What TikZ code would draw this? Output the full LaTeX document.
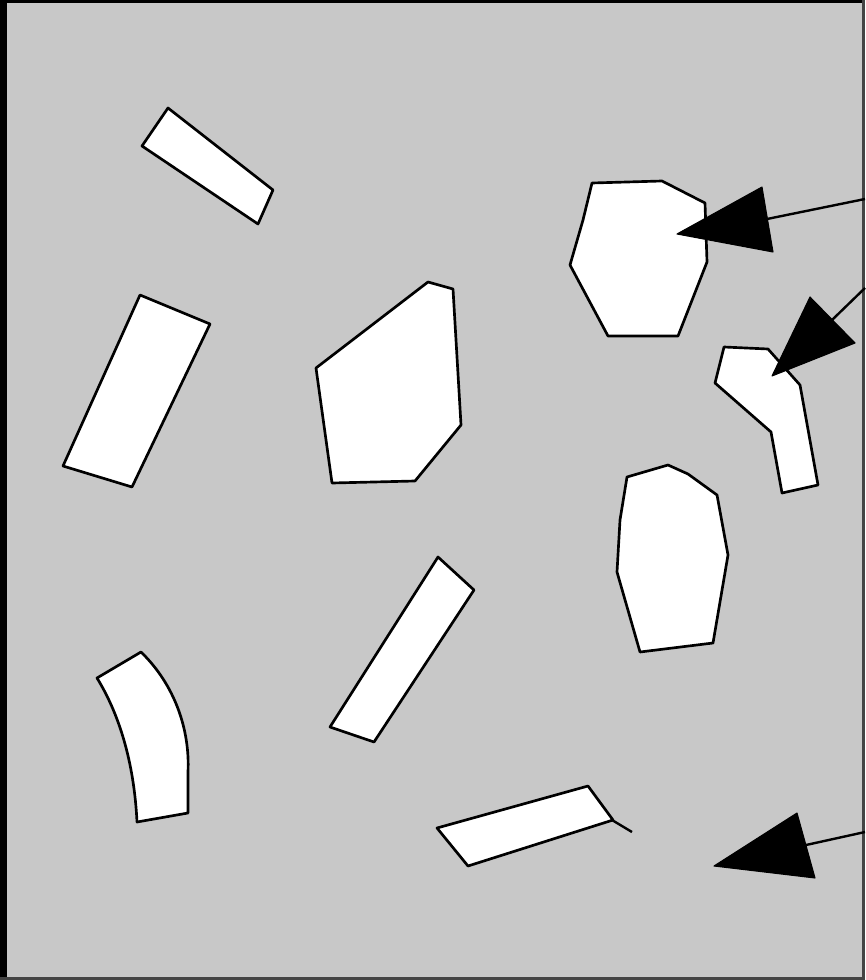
\documentclass[tikz,border=0pt]{standalone}
\definecolor{bgc}{HTML}{C8C8C8}
\definecolor{dkc}{HTML}{444444}
\tikzset{
  piece/.style={draw=black, fill=white, line width=2pt, line join=round},
  shaft/.style={draw=black, line width=1.8pt},
  head/.style={fill=black, draw=black, line width=0.8pt, line join=round}
}
\begin{document}
\begin{tikzpicture}[x=0.75pt,y=-0.75pt]
\useasboundingbox (0,0) rectangle (865,980);
\fill[bgc] (0,0) rectangle (865,980);
\fill[black] (0,0) rectangle (7,980);
\fill[black] (0,0) rectangle (865,3);
\fill[dkc] (862,0) rectangle (865,980);
\fill[dkc] (0,977) rectangle (865,980);
% pieces
\draw[piece] (168,108) -- (273,190) -- (258,224) -- (142,146) -- cycle;
\draw[piece] (140,295) -- (210,324) -- (132,487) -- (63,466) -- cycle;
\draw[piece] (428,282) -- (453,289) -- (461,425) -- (415,481) -- (332,483) -- (316,368) -- cycle;
\draw[piece] (592,183) -- (662,181) -- (705,203) -- (707,262) -- (678,336) -- (608,336) -- (570,265) -- (583,220) -- cycle;
\draw[piece] (724,347) -- (768,349) -- (800,385) -- (818,485) -- (782,493) -- (771,432) -- (715,383) -- cycle;
\draw[piece] (627,477) -- (668,465) -- (688,474) -- (717,495) -- (728,555) -- (713,643) -- (640,652) -- (617,572) -- (620,520) -- cycle;
\draw[piece] (438,557) -- (474,590) -- (374,742) -- (330,727) -- cycle;
\draw[piece] (141,652) .. controls (175,685) and (190,730) .. (188,772) -- (188,813) -- (137,822) .. controls (134,760) and (118,712) .. (97,678) -- cycle;
\draw[piece] (437,828) -- (588,786) -- (613,820) -- (468,866) -- cycle;
\draw[shaft] (612,820) -- (632,832);
% arrows
\coordinate (e1) at (865,199);
\coordinate (b1) at (767,219);
\draw[shaft] (e1) -- (b1);
\draw[head] (677,234) -- (762,187) -- (773,252) -- cycle;
\coordinate (e2) at (865,288);
\coordinate (b2) at (832,320);
\draw[shaft] (e2) -- (b2);
\draw[head] (772,376) -- (810,297) -- (855,343) -- cycle;
\coordinate (e3) at (865,832);
\coordinate (b3) at (806,845);
\draw[shaft] (e3) -- (b3);
\draw[head] (714,866) -- (797,813) -- (815,878) -- cycle;
\end{tikzpicture}
\end{document}
